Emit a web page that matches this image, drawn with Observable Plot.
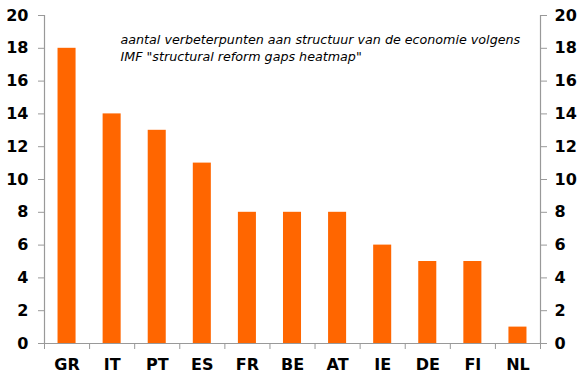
<!DOCTYPE html>
<html>
<head>
<meta charset="utf-8">
<script src="https://cdn.jsdelivr.net/npm/d3@7"></script>
<script src="https://cdn.jsdelivr.net/npm/@observablehq/plot@0.6"></script>
<style>
  html, body { margin: 0; padding: 0; background: #fff; }
  svg { display: block; }
</style>
</head>
<body>
<div id="chart"></div>
<script>
const categories = ["GR", "IT", "PT", "ES", "FR", "BE", "AT", "IE", "DE", "FI", "NL"];
const values = [18, 14, 13, 11, 8, 8, 8, 6, 5, 5, 1];
const yTicks = [0, 2, 4, 6, 8, 10, 12, 14, 16, 18, 20];
const annotation = "aantal verbeterpunten aan structuur van de economie volgens\nIMF \"structural reform gaps heatmap\"";

const data = categories.map((c, i) => ({cat: c, v: values[i], i}));
const bounds = d3.range(categories.length + 1);
const axisColor = "#999999";
const font = "DejaVu Sans, Verdana, sans-serif";
const n = categories.length;

const chart = Plot.plot({
  width: 584,
  height: 381,
  marginLeft: 44,
  marginRight: 44,
  marginTop: 15,
  marginBottom: 38,
  style: {fontFamily: font, background: "#fff"},
  x: {domain: [0, n], axis: null},
  y: {domain: [0, 20], axis: null},
  marks: [
    Plot.rectY(data, {x1: d => d.i + 0.3, x2: d => d.i + 0.7, y: "v", fill: "#FF6600"}),
    Plot.ruleX([0, n], {stroke: axisColor, strokeWidth: 1.2}),
    Plot.ruleY([0], {stroke: axisColor, strokeWidth: 1.2}),
    Plot.axisX({ticks: bounds, tickFormat: () => "", tickSize: 6, stroke: axisColor}),
    Plot.axisY({anchor: "left", ticks: yTicks, tickSize: 6, tickFormat: () => "", stroke: axisColor, label: null}),
    Plot.axisY({anchor: "right", ticks: yTicks, tickSize: 6, tickFormat: () => "", stroke: axisColor, label: null}),
    Plot.text(yTicks, {x: 0, y: d => d, text: d => String(d), textAnchor: "end", dx: -16,
      fontSize: 16, fontWeight: "bold", fill: "#000"}),
    Plot.text(yTicks, {x: n, y: d => d, text: d => String(d), textAnchor: "start", dx: 14,
      fontSize: 16, fontWeight: "bold", fill: "#000"}),
    Plot.text(data, {x: d => d.i + 0.5, y: 0, text: "cat", dy: 21, fontSize: 16, fontWeight: "bold", fill: "#000"}),
    Plot.text([annotation], {frameAnchor: "top-left", dx: 76, dy: 16.5, textAnchor: "start", lineAnchor: "top",
      fontSize: 12.7, fontStyle: "italic", fill: "#000", lineHeight: 1.34})
  ]
});
document.getElementById("chart").append(chart);
</script>
</body>
</html>
